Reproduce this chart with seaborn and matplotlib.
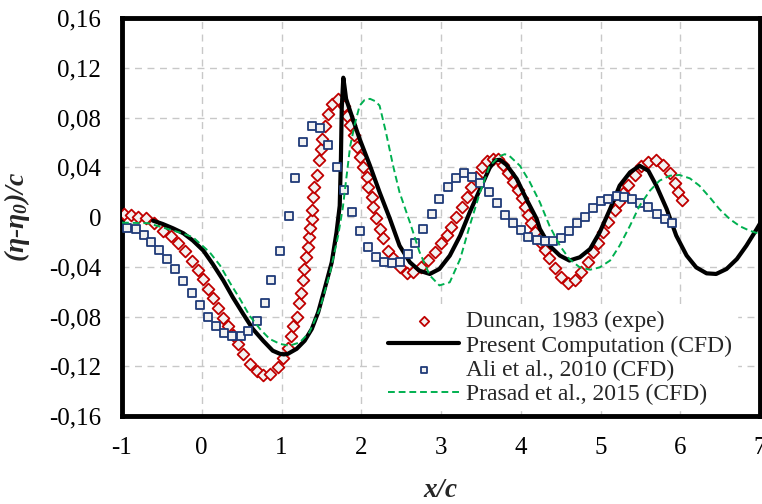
import matplotlib
matplotlib.use("Agg")
import matplotlib.pyplot as plt
import seaborn as sns
from matplotlib.ticker import FuncFormatter

# Duncan, 1983 (experiment)
duncan_x = [-0.97, -0.89, -0.80, -0.70, -0.60, -0.48, -0.38, -0.30, -0.21, -0.12,
            -0.05, 0.02, 0.08, 0.14, 0.20, 0.27, 0.33, 0.39, 0.46, 0.52,
            0.60, 0.69, 0.77, 0.86, 0.95, 1.02, 1.08, 1.12, 1.15, 1.19,
            1.22, 1.24, 1.27, 1.28, 1.31, 1.33, 1.35, 1.36, 1.38, 1.38,
            1.40, 1.41, 1.44, 1.47, 1.49, 1.51, 1.54, 1.58, 1.63, 1.71,
            1.78, 1.82, 1.86, 1.91, 1.95, 1.98, 2.02, 2.07, 2.09, 2.13,
            2.15, 2.19, 2.23, 2.27, 2.34, 2.40, 2.48, 2.57, 2.65, 2.75,
            2.84, 2.92, 3.00, 3.07, 3.13, 3.19, 3.26, 3.32, 3.38, 3.44,
            3.51, 3.58, 3.65, 3.71, 3.78, 3.84, 3.90, 3.97, 4.01, 4.05,
            4.09, 4.13, 4.18, 4.24, 4.30, 4.36, 4.43, 4.51, 4.59, 4.68,
            4.76, 4.84, 4.91, 4.97, 5.03, 5.10, 5.18, 5.23, 5.28, 5.34,
            5.43, 5.51, 5.60, 5.70, 5.78, 5.87, 5.93, 5.97, 6.02]
duncan_y = [0.0024, 0.0016, 0.0, -0.001, -0.0045, -0.011, -0.015, -0.0206, -0.027, -0.035,
            -0.0426, -0.050, -0.058, -0.065, -0.073, -0.081, -0.0876, -0.095, -0.102, -0.110,
            -0.118, -0.124, -0.127, -0.126, -0.121, -0.113, -0.105, -0.096, -0.088, -0.080,
            -0.069, -0.061, -0.051, -0.042, -0.032, -0.024, -0.016, -0.009, -0.002, 0.006,
            0.016, 0.024, 0.034, 0.046, 0.055, 0.063, 0.073, 0.083, 0.091, 0.095,
            0.089, 0.081, 0.074, 0.066, 0.0565, 0.0485, 0.040, 0.032, 0.024, 0.016,
            0.008, -0.001, -0.010, -0.017, -0.027, -0.033, -0.040, -0.045, -0.044, -0.040,
            -0.0345, -0.028, -0.021, -0.0145, -0.008, 0.0, 0.008, 0.016, 0.024, 0.032,
            0.040, 0.045, 0.047, 0.047, 0.042, 0.035, 0.028, 0.0217, 0.015, 0.008,
            0.0016, -0.005, -0.012, -0.020, -0.0265, -0.033, -0.041, -0.048, -0.053, -0.051,
            -0.044, -0.036, -0.028, -0.021, -0.012, -0.004, 0.0056, 0.012, 0.019, 0.026,
            0.034, 0.041, 0.0445, 0.046, 0.042, 0.035, 0.0276, 0.020, 0.0137]

# Present Computation (CFD)
present_x = [-0.61, -0.49, -0.36, -0.23, -0.11, 0.02, 0.14, 0.27, 0.39, 0.52,
             0.64, 0.77, 0.89, 0.98, 1.03, 1.08, 1.19, 1.29, 1.38, 1.46,
             1.54, 1.63, 1.69, 1.73, 1.745, 1.755, 1.775, 1.79, 1.81, 1.88,
             1.98, 2.11, 2.23, 2.36, 2.48, 2.61, 2.73, 2.86, 2.98, 3.11,
             3.24, 3.36, 3.49, 3.61, 3.68, 3.74, 3.82, 3.95, 4.07, 4.20,
             4.24, 4.36, 4.49, 4.61, 4.74, 4.87, 4.99, 5.12, 5.24, 5.37,
             5.49, 5.60, 5.70, 5.83, 5.95, 6.08, 6.20, 6.33, 6.45, 6.58,
             6.71, 6.83, 6.96, 7.02]
present_y = [-0.003, -0.0056, -0.0091, -0.0131, -0.019, -0.027, -0.038, -0.051, -0.0646, -0.078,
             -0.090, -0.0995, -0.1075, -0.110, -0.1105, -0.110, -0.106, -0.0995, -0.090, -0.0766,
             -0.058, -0.0364, -0.0123, 0.009, 0.047, 0.087, 0.112, 0.105, 0.095, 0.0815,
             0.0627, 0.0412, 0.0199, -0.0016, -0.023, -0.0364, -0.0432, -0.0458, -0.0418, -0.0311,
             -0.015, 0.0038, 0.0225, 0.0395, 0.0455, 0.046, 0.042, 0.0306, 0.0145, -0.0016,
             -0.0096, -0.023, -0.031, -0.035, -0.0324, -0.0257, -0.0123, 0.0064, 0.0252, 0.0359,
             0.0412, 0.0372, 0.0252, 0.0064, -0.015, -0.031, -0.0405, -0.0453, -0.0458, -0.0418,
             -0.0338, -0.023, -0.0096, -0.003]

# Ali et al., 2010 (CFD)
ali_x = [-0.94, -0.83, -0.72, -0.64, -0.53, -0.43, -0.33, -0.23, -0.12, -0.02,
         0.08, 0.18, 0.28, 0.38, 0.49, 0.58, 0.69, 0.79, 0.87, 0.98,
         1.09, 1.17, 1.27, 1.38, 1.48, 1.58, 1.70, 1.78, 1.88, 1.98,
         2.08, 2.18, 2.28, 2.38, 2.48, 2.59, 2.68, 2.78, 2.89, 2.97,
         3.09, 3.19, 3.29, 3.39, 3.49, 3.60, 3.70, 3.80, 3.90, 4.00,
         4.09, 4.20, 4.30, 4.40, 4.50, 4.61, 4.71, 4.81, 4.91, 5.00,
         5.09, 5.21, 5.30, 5.40, 5.50, 5.60, 5.71, 5.81, 5.90]
ali_y = [-0.0086, -0.010, -0.0145, -0.020, -0.0265, -0.034, -0.042, -0.0515, -0.0611, -0.0708,
         -0.080, -0.0876, -0.093, -0.096, -0.0957, -0.0914, -0.0834, -0.069, -0.051, -0.027,
         0.0008, 0.031, 0.0606, 0.0734, 0.0718, 0.058, 0.0405, 0.0217, 0.0043, -0.011,
         -0.024, -0.0324, -0.036, -0.0367, -0.036, -0.0298, -0.0206, -0.0099, 0.0024, 0.0142,
         0.0244, 0.031, 0.035, 0.0324, 0.027, 0.0199, 0.011, 0.0016, -0.005, -0.0105,
         -0.0158, -0.0185, -0.0193, -0.0193, -0.0166, -0.011, -0.005, -0.0002, 0.007, 0.013,
         0.0145, 0.0169, 0.0163, 0.0145, 0.011, 0.0078, 0.0024, -0.0016, -0.0046]

# Prasad et al., 2015 (CFD)
prasad_x = [-1.0, -0.67, -0.25, -0.11, 0.10, 0.23, 0.35, 0.48, 0.60, 0.73,
            0.85, 0.98, 1.10, 1.23, 1.35, 1.48, 1.61, 1.71, 1.77, 1.86,
            1.92, 1.98, 2.04, 2.11, 2.18, 2.23, 2.31, 2.40, 2.48, 2.61,
            2.73, 2.86, 2.98, 3.11, 3.24, 3.36, 3.49, 3.61, 3.74, 3.80,
            3.86, 3.99, 4.11, 4.24, 4.36, 4.49, 4.61, 4.74, 4.87, 4.99,
            5.12, 5.24, 5.37, 5.49, 5.62, 5.74, 5.87, 5.99, 6.12, 6.24,
            6.37, 6.49, 6.62, 6.75, 6.87, 7.0]
prasad_y = [-0.0045, -0.005, -0.013, -0.0163, -0.0284, -0.039, -0.0525, -0.066, -0.0794, -0.090,
            -0.098, -0.102, -0.1035, -0.1008, -0.0927, -0.074, -0.0445, -0.015, 0.008, 0.0565,
            0.075, 0.0895, 0.094, 0.095, 0.093, 0.0895, 0.068, 0.041, 0.0199, -0.0043,
            -0.028, -0.047, -0.055, -0.0525, -0.0338, -0.007, 0.0199, 0.0412, 0.049, 0.0505,
            0.049, 0.0412, 0.0285, 0.0118, -0.007, -0.023, -0.0338, -0.0405, -0.0424, -0.0405,
            -0.035, -0.023, -0.007, 0.009, 0.0212, 0.0292, 0.0332, 0.0338, 0.0311, 0.0252,
            0.0158, 0.0064, -0.0016, -0.0075, -0.011, -0.0137]

x_ticks = [-1, 0, 1, 2, 3, 4, 5, 6, 7]
y_ticks = [-0.16, -0.12, -0.08, -0.04, 0, 0.04, 0.08, 0.12, 0.16]

sns.set_style("white")
plt.rcParams['font.family'] = ['Liberation Serif', 'DejaVu Serif']
plt.rcParams['mathtext.fontset'] = 'custom'
plt.rcParams['mathtext.rm'] = 'Liberation Serif:bold:italic'
plt.rcParams['mathtext.it'] = 'Liberation Serif:bold:italic'
plt.rcParams['mathtext.bf'] = 'Liberation Serif:bold:italic'

fig = plt.figure(figsize=(7.62, 5.04), dpi=100)
ax = fig.add_axes([122 / 762, 1 - 416 / 504, 638 / 762, 398 / 504])

sns.scatterplot(x=duncan_x, y=duncan_y, ax=ax, marker='D', s=36,
                facecolor='#f2f2f2', edgecolor='#c00000', linewidth=1.3,
                label='Duncan, 1983 (expe)', zorder=3)
sns.lineplot(x=present_x, y=present_y, ax=ax, color='black', linewidth=3,
             sort=False, estimator=None, label='Present Computation (CFD)', zorder=4)
sns.scatterplot(x=ali_x, y=ali_y, ax=ax, marker='s', s=36,
                facecolor='#f2f2f2', edgecolor='#1f3a78', linewidth=1.3,
                label='Ali et al., 2010 (CFD)', zorder=5)
sns.lineplot(x=prasad_x, y=prasad_y, ax=ax, color='#00b050', linewidth=1.4,
             linestyle=(0, (3.5, 2)), sort=False, estimator=None,
             label='Prasad et al., 2015 (CFD)', zorder=6)

ax.set_xlim(-1, 7)
ax.set_ylim(-0.16, 0.16)
ax.set_xticks(x_ticks)
ax.set_yticks(y_ticks)

def comma_fmt(v, pos):
    if abs(v) < 1e-9:
        return '0'
    s = ('%.2f' % v) if abs(v - round(v)) > 1e-9 else ('%d' % round(v))
    return s.replace('.', ',')

ax.xaxis.set_major_formatter(FuncFormatter(comma_fmt))
ax.yaxis.set_major_formatter(FuncFormatter(comma_fmt))
ax.tick_params(axis='both', direction='in', length=5, width=3, labelsize=18,
               pad=15, colors='black')

ax.grid(True, color='#c8c8c8', linestyle=(0, (5, 4)), linewidth=1)
for sp in ax.spines.values():
    sp.set_visible(True)
    sp.set_color('black')
    sp.set_linewidth(3.5)

ax.set_xlabel(r'$x/c$', fontsize=19.5, labelpad=14)
ax.set_ylabel(r'$(\eta$' + '-' + r'$\eta_0)/c$', fontsize=20, labelpad=12,
              fontweight='bold', fontstyle='italic')

leg = ax.legend(loc='lower left', bbox_to_anchor=(0.41, 0.015), fontsize=17,
                frameon=True, framealpha=1, edgecolor='white', facecolor='white',
                handlelength=3, labelspacing=0.12, borderpad=0.2,
                handletextpad=0.3, borderaxespad=0, markerscale=0.8, fancybox=False)

fig.savefig('out.png', dpi=100)
